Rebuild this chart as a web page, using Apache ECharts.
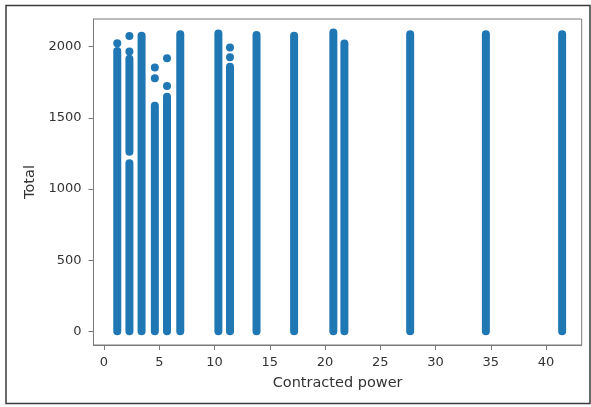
<!DOCTYPE html>
<html>
<head>
<meta charset="utf-8">
<script src="https://cdn.jsdelivr.net/npm/echarts@6/dist/echarts.min.js"></script>
<style>
  html, body { margin: 0; padding: 0; background: #fff; }
  #scatter { width: 591px; height: 407px; }
</style>
</head>
<body>
<div id="scatter"></div>
<script>
  // solid runs of points: x, lowest value, highest value
  const segX  = [1.2, 2.3, 2.3, 3.4, 4.6, 5.7, 6.9, 10.35, 11.4, 13.8, 17.2, 20.75, 21.75, 27.7, 34.55, 41.45];
  const segLo = [0,   0,   1261, 0,  0,   0,   0,   0,     0,    0,    0,    0,     0,     0,    0,     0];
  const segHi = [1970, 1180, 1914, 2077, 1585, 1648, 2086, 2093, 1859, 2081, 2077, 2100, 2022, 2086, 2086, 2086];

  // isolated points above the runs
  const dotX = [1.2, 2.3, 2.3, 4.6, 4.6, 5.7, 5.7, 11.4, 11.4];
  const dotY = [2024, 2075, 1965, 1853, 1778, 1919, 1724, 1993, 1926];

  const xTicks = [0, 5, 10, 15, 20, 25, 30, 35, 40];
  const yTicks = [0, 500, 1000, 1500, 2000];

  let chart = echarts.init(document.getElementById('scatter'));
  let blue = '#1f77b4';
  let axisColor = '#7a7a7a';
  let textColor = '#333';

  let series = segX.map((x, i) => ({
    type: 'line',
    silent: true,
    showSymbol: false,
    lineStyle: { color: blue, width: 8, cap: 'round' },
    data: [[x, segLo[i]], [x, segHi[i]]]
  }));
  series.push({
    type: 'scatter',
    symbolSize: 8,
    itemStyle: { color: blue, opacity: 1 },
    data: dotX.map((x, i) => [x, dotY[i]])
  });

  let option = {
    animation: false,
    grid: {
      left: 93.5,
      right: 9.3,
      top: 19,
      bottom: 62,
      show: true,
      borderColor: axisColor,
      borderWidth: 1
    },
    xAxis: {
      type: 'value',
      min: -0.95,
      max: 43.22,
      name: 'Contracted power',
      nameLocation: 'middle',
      nameGap: 31,
      nameTextStyle: { color: textColor, fontSize: 14.5, fontFamily: 'DejaVu Sans' },
      axisLine: { show: true, onZero: false, lineStyle: { color: axisColor, width: 1 } },
      axisTick: { show: true, length: 5, customValues: xTicks, lineStyle: { color: axisColor } },
      axisLabel: { customValues: xTicks, formatter: v => String(v), color: textColor, fontSize: 13, fontFamily: 'DejaVu Sans', margin: 11 },
      splitLine: { show: false }
    },
    yAxis: {
      type: 'value',
      min: -96,
      max: 2194,
      name: 'Total',
      nameLocation: 'middle',
      nameGap: 56,
      nameTextStyle: { color: textColor, fontSize: 14.5, fontFamily: 'DejaVu Sans' },
      axisLine: { show: true, onZero: false, lineStyle: { color: axisColor, width: 1 } },
      axisTick: { show: true, length: 5, customValues: yTicks, lineStyle: { color: axisColor } },
      axisLabel: { customValues: yTicks, formatter: v => String(v), color: textColor, fontSize: 13, fontFamily: 'DejaVu Sans', margin: 12 },
      splitLine: { show: false }
    },
    graphic: [{
      type: 'rect',
      silent: true,
      shape: { x: 6, y: 5.5, width: 584, height: 398 },
      style: { fill: 'none', stroke: '#3a3a3a', lineWidth: 1.5 }
    }],
    series: series
  };

  chart.setOption(option);
</script>
</body>
</html>
